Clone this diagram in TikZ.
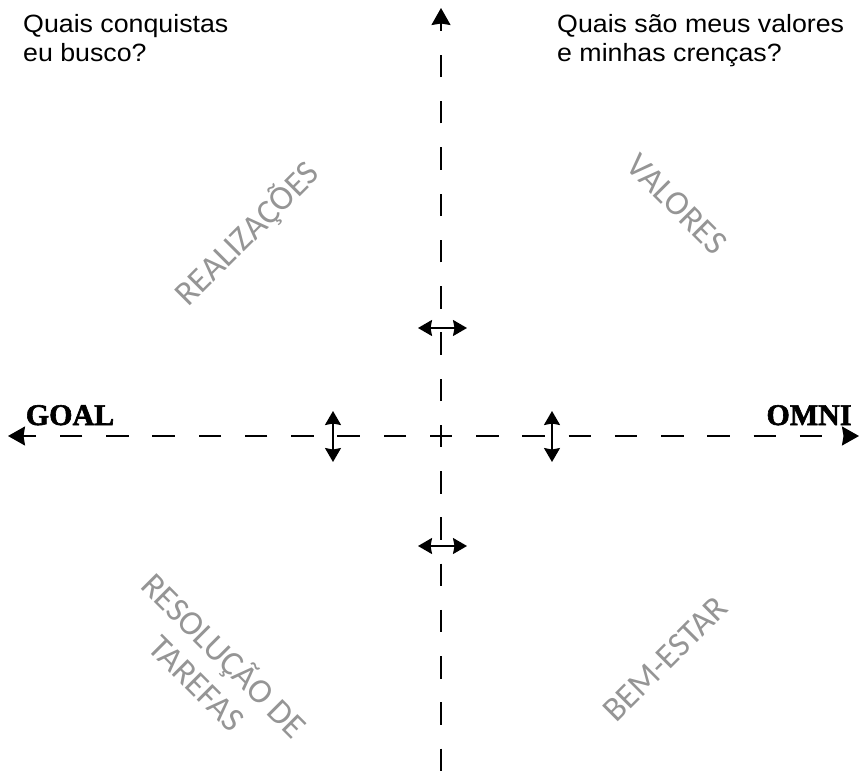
\documentclass[tikz,border=0pt]{standalone}
\usepackage{fontspec}
\setmainfont{Liberation Sans}
\newfontfamily\qfont[FakeStretch=1.07]{Liberation Sans}
\newfontfamily\polefont[FakeBold=2]{Liberation Serif}
\newfontfamily\quadfont{Carlito}
\usetikzlibrary{arrows.meta}
\definecolor{quadgray}{HTML}{959595}
\begin{document}
\begin{tikzpicture}[x=1pt, y=-1pt,
  axisline/.style={line width=1.7pt, dash pattern=on 22.5pt off 23.75pt, dash phase=11.25pt},
  axistip/.style={-{Stealth[length=17pt,width=19pt,inset=1.5pt]}},
  swing/.style={line width=1.7pt, {Stealth[length=14pt,width=16pt,inset=1.5pt]}-{Stealth[length=14pt,width=16pt,inset=1.5pt]}},
  question/.style={anchor=base west, align=left, inner sep=0pt, text=black,
    font=\qfont\fontsize{25}{29}\selectfont},
  pole/.style={anchor=base, inner sep=0pt, font=\polefont\fontsize{30}{30}\selectfont\bfseries},
  quadrant/.style={inner sep=0pt, text=quadgray, align=center,
    font=\quadfont\fontsize{34.5}{39}\selectfont}
]
\useasboundingbox (0,0) rectangle (862,773);

% axes, dashed from the centre outwards
\coordinate (c) at (441,436);
\coordinate (top) at (441,8);
\coordinate (bottom) at (441,773);
\coordinate (left) at (8,436);
\coordinate (right) at (859,436);
\draw[axisline, axistip] (c) -- (top);
\draw[axisline] (c) -- (bottom);
\draw[axisline, axistip] (c) -- (left);
\draw[axisline, axistip] (c) -- (right);

% two-way arrows on the axes
\coordinate (nl) at (418,328); \coordinate (nr) at (467,328);
\coordinate (sl) at (418,546); \coordinate (sr) at (467,546);
\coordinate (wt) at (333,411); \coordinate (wb) at (333,462);
\coordinate (et) at (552,411); \coordinate (eb) at (552,462);
\draw[swing] (nl) -- (nr);
\draw[swing] (sl) -- (sr);
\draw[swing] (wt) -- (wb);
\draw[swing] (et) -- (eb);

% pole labels
\node[pole] (goal) at (70,425) {GOAL};
\node[pole] (omni) at (809,425) {OMNI};

% guiding questions (anchored on the baseline of the last line)
\node[question] (qleft) at (23,62) {Quais conquistas\\eu busco?};
\node[question] (qright) at (557,62) {Quais são meus valores\\e minhas crenças?};

% quadrant names
\node[quadrant, rotate=45] (realiz) at (247,234) {REALIZAÇÕES};
\node[quadrant, rotate=-45] (valores) at (677,204) {VALORES};
\node[quadrant, rotate=-45] (tarefas) at (212,668) {RESOLUÇÃO DE\\TAREFAS};
\node[quadrant, rotate=45] (bemestar) at (665,659) {BEM-ESTAR};
\end{tikzpicture}
\end{document}
